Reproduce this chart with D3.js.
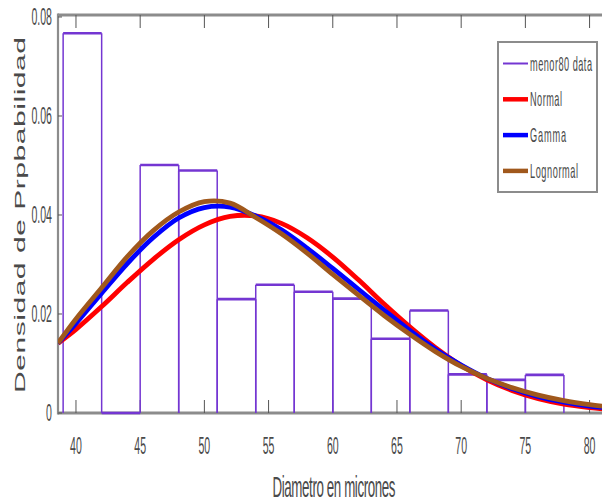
<!DOCTYPE html>
<html>
<head>
<meta charset="utf-8">
<script src="https://cdn.jsdelivr.net/npm/d3@7"></script>
<style>
  html, body { margin: 0; padding: 0; background: #fff; }
  svg { display: block; }
</style>
</head>
<body>
<svg id="chart" width="602" height="503"></svg>
<script>
// ---------------- data ----------------
const binEdges = [39, 42, 45, 48, 51, 54, 57, 60, 63, 66, 69, 72, 75, 78];
const binDensity = [0.0767, 0, 0.0501, 0.0490, 0.0230, 0.0259, 0.0245, 0.0231, 0.0150, 0.0207, 0.0078, 0.0067, 0.0077];

const curveX = [38.6, 40, 42, 44, 46, 48, 50, 52, 54, 56, 58, 60, 62, 64, 66, 68, 70, 72, 74, 76, 78, 80, 82];
const normalPdf = [0.0141, 0.0169, 0.0215, 0.0264, 0.0310, 0.0350, 0.0380, 0.0397, 0.0398, 0.0383, 0.0354, 0.0315, 0.0269, 0.0220, 0.0174, 0.0132, 0.0096, 0.0067, 0.0045, 0.0029, 0.0018, 0.0011, 0.0006];
const gammaPdf  = [0.0141, 0.0181, 0.0242, 0.0302, 0.0354, 0.0394, 0.0415, 0.0416, 0.0398, 0.0370, 0.0333, 0.0292, 0.0250, 0.0208, 0.0167, 0.0129, 0.0097, 0.0070, 0.0049, 0.0033, 0.0022, 0.0014, 0.0009];
const lognPdf   = [0.0141, 0.0190, 0.0253, 0.0316, 0.0368, 0.0406, 0.0427, 0.0424, 0.0395, 0.0362, 0.0323, 0.0280, 0.0238, 0.0197, 0.0159, 0.0124, 0.0094, 0.0070, 0.0051, 0.0036, 0.0025, 0.0017, 0.0011];

const xTicks = [40, 45, 50, 55, 60, 65, 70, 75, 80];
const yTicks = [0, 0.02, 0.04, 0.06, 0.08];
const yTickLabels = ["0", "0.02", "0.04", "0.06", "0.08"];

const legendLabels = ["menor80 data", "Normal", "Gamma", "Lognormal"];
const xTitle = "Diametro en micrones";
const yTitle = "Densidad de Prpbabilidad";

// ---------------- styles ----------------
const purple = "#7436d2";
const colors = { normal: "#ff0000", gamma: "#0000ff", logn: "#a0581c" };
const axisGray = "#8c8c8c";
const textColor = "#4a4a4a";
const FONT = "'Liberation Sans', Arial, sans-serif";
const SQ = 0.46; // horizontal squeeze of the original picture

const svg = d3.select("#chart");
const L = 58, T = 15, B = 413;
const x = d3.scaleLinear().domain([38.6, 81.5]).range([L, L + 42.9 * 12.84]);
const y = d3.scaleLinear().domain([0, 0.0804]).range([B, T]);
const R = 602;

svg.append("defs").append("clipPath").attr("id", "plotclip")
  .append("rect").attr("x", L).attr("y", T - 2).attr("width", R - L + 10).attr("height", B - T + 4);

// helper for squeezed text
function sqText(px, py, str, size, anchor, targetWidth, rotate) {
  const g = svg.append("g").attr("transform",
    `translate(${px},${py}) scale(${SQ},1)` + (rotate ? " rotate(-90)" : ""));
  const t = g.append("text")
    .attr("x", 0).attr("y", 0)
    .attr("text-anchor", anchor)
    .attr("font-family", FONT)
    .attr("font-size", size)
    .attr("fill", textColor)
    .text(str);
  if (targetWidth) {
    t.attr("textLength", rotate ? targetWidth : targetWidth / SQ).attr("lengthAdjust", "spacing");
  }
  return t;
}

// ---------------- axes lines ----------------
const axes = svg.append("g");
axes.append("line").attr("x1", L).attr("x2", R + 5).attr("y1", B).attr("y2", B)
  .attr("stroke", axisGray).attr("stroke-width", 3);
axes.append("line").attr("x1", L).attr("x2", R + 5).attr("y1", T).attr("y2", T)
  .attr("stroke", axisGray).attr("stroke-width", 3);
axes.append("line").attr("x1", L).attr("x2", L).attr("y1", T - 1.5).attr("y2", B + 1.5)
  .attr("stroke", axisGray).attr("stroke-width", 2.2);

// ticks (inward)
xTicks.forEach(v => {
  axes.append("line").attr("x1", x(v)).attr("x2", x(v)).attr("y1", B).attr("y2", B - 13)
    .attr("stroke", "#555").attr("stroke-width", 1);
  axes.append("line").attr("x1", x(v)).attr("x2", x(v)).attr("y1", T).attr("y2", T + 13)
    .attr("stroke", "#555").attr("stroke-width", 1);
});
yTicks.forEach(v => {
  axes.append("line").attr("x1", L).attr("x2", L + 4).attr("y1", y(v)).attr("y2", y(v))
    .attr("stroke", "#555").attr("stroke-width", 1);
});

// ---------------- histogram ----------------
const bars = svg.append("g").attr("clip-path", "url(#plotclip)");
binDensity.forEach((d, i) => {
  const x0 = x(binEdges[i]), x1 = x(binEdges[i + 1]), yt = y(d);
  bars.append("line").attr("x1", x0).attr("x2", x0).attr("y1", B).attr("y2", yt)
    .attr("stroke", purple).attr("stroke-width", 1.5);
  bars.append("line").attr("x1", x1).attr("x2", x1).attr("y1", B).attr("y2", yt)
    .attr("stroke", purple).attr("stroke-width", 1.5);
  bars.append("line").attr("x1", x0).attr("x2", x1).attr("y1", yt).attr("y2", yt)
    .attr("stroke", purple).attr("stroke-width", 2.6);
});

// ---------------- fitted curves ----------------
const line = d3.line()
  .x((d, i) => x(curveX[i]))
  .y(d => y(d))
  .curve(d3.curveCatmullRom.alpha(0.5));
const curves = svg.append("g").attr("clip-path", "url(#plotclip)");
[[normalPdf, colors.normal], [gammaPdf, colors.gamma], [lognPdf, colors.logn]].forEach(([arr, c]) => {
  curves.append("path").attr("d", line(arr))
    .attr("fill", "none").attr("stroke", c).attr("stroke-width", 4.8)
    .attr("stroke-linejoin", "round").attr("stroke-linecap", "butt");
});

// ---------------- tick labels ----------------
xTicks.forEach(v => {
  sqText(x(v), 454, String(v), 23, "middle");
});
yTicks.forEach((v, i) => {
  sqText(52, y(v) + 8, yTickLabels[i], 23, "end");
});

// ---------------- axis titles ----------------
sqText(334, 497, xTitle, 29, "middle", 123);
sqText(25, 215, yTitle, 30, "middle", 356, true);

// ---------------- legend ----------------
const lg = svg.append("g");
lg.append("rect").attr("x", 498).attr("y", 42).attr("width", 99).attr("height", 150)
  .attr("fill", "#fff").attr("stroke", axisGray).attr("stroke-width", 2);
const legendColors = [purple, colors.normal, colors.gamma, colors.logn];
const legendWidths = [62, 32, 36, 48];
legendLabels.forEach((lab, i) => {
  const cy = 63.5 + i * 35.8;
  lg.append("line").attr("x1", 503).attr("x2", 528).attr("y1", cy).attr("y2", cy)
    .attr("stroke", legendColors[i]).attr("stroke-width", i === 0 ? 2 : 4.5);
  sqText(530, cy + 7, lab, 20, "start", legendWidths[i]);
});
</script>
</body>
</html>
